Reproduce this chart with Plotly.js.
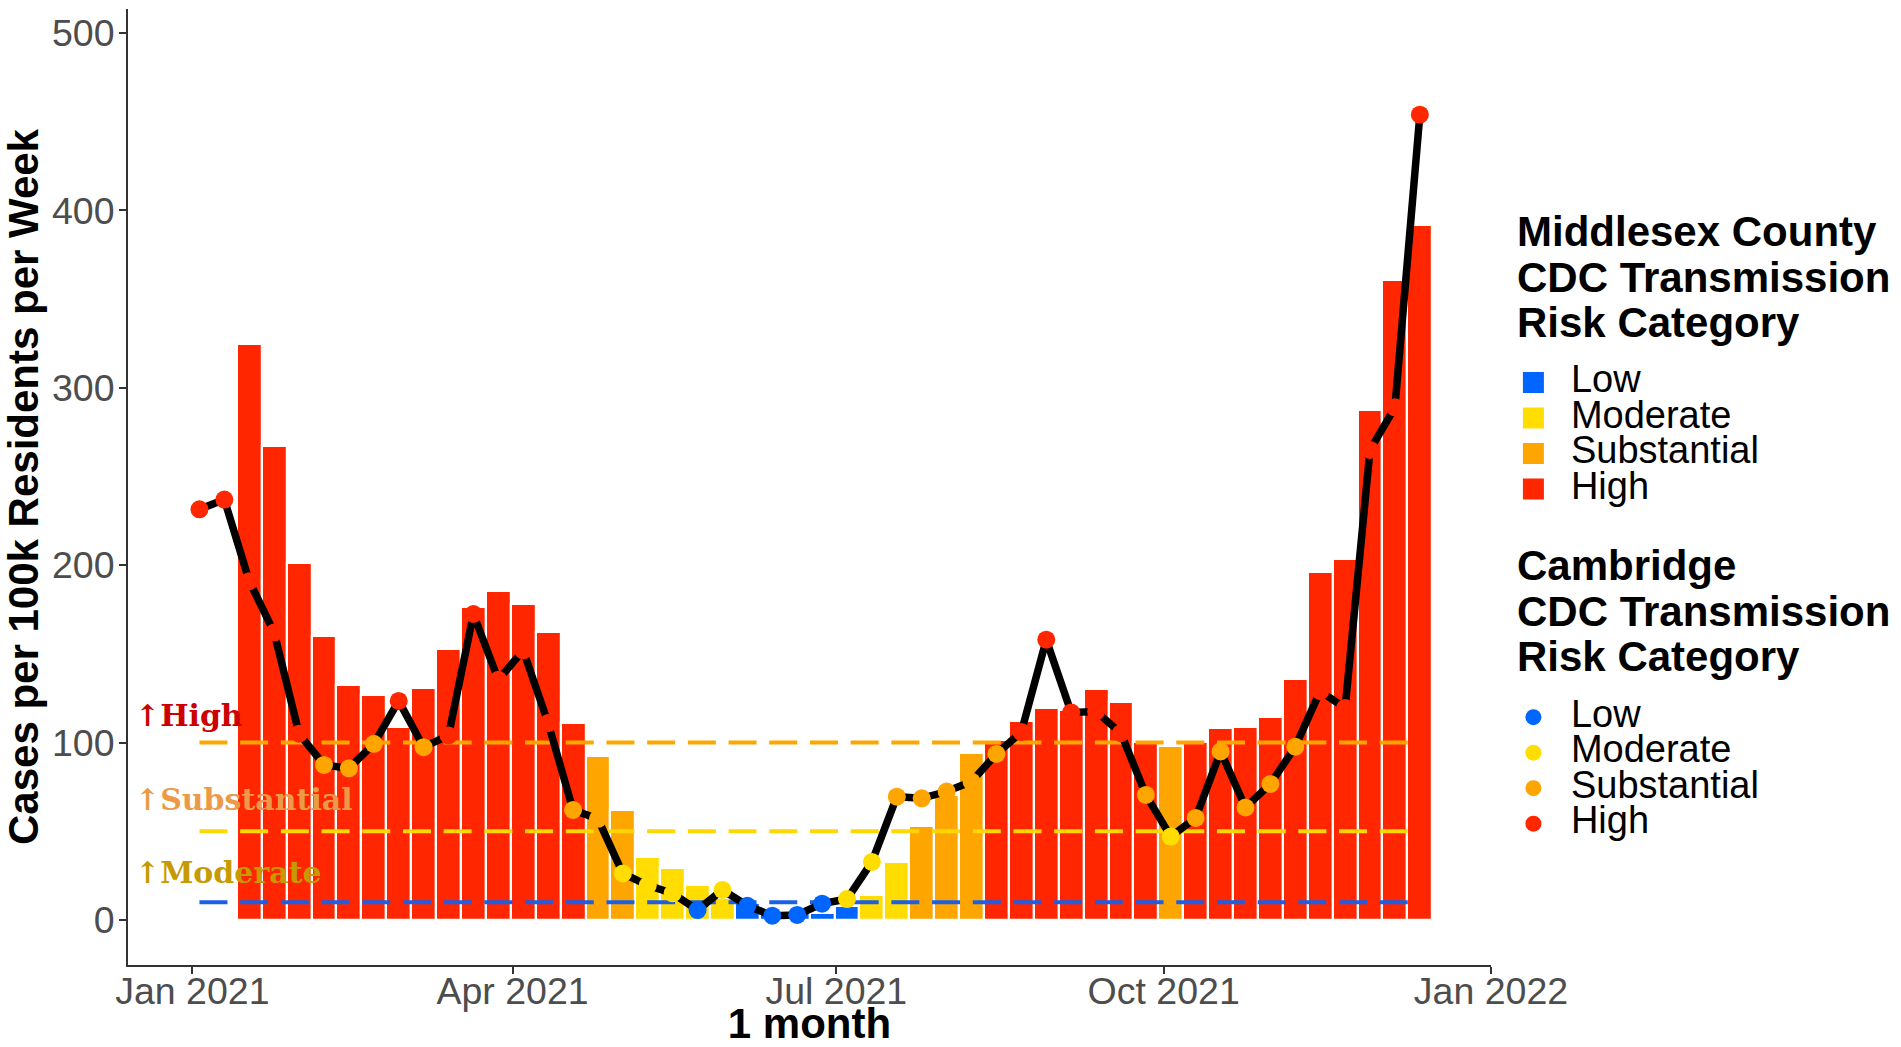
<!DOCTYPE html>
<html><head><meta charset="utf-8">
<script src="https://cdn.plot.ly/plotly-3.0.1.min.js"></script>
<style>html,body{margin:0;padding:0;background:#fff}#chart{width:1901px;height:1047px}</style>
</head><body><div id="chart"></div>
<script>
// ---------- data ----------
const categories = ['Low', 'Moderate', 'Substantial', 'High'];
const categoryColors = ['#0066FF', '#FFDD00', '#FFA500', '#FF2600'];

const thresholdValues = [10, 50, 100];
const thresholdColors = ['#1A5FE6', '#FFD700', '#FFA500'];
const thresholdLabels = ['↑Moderate', '↑Substantial', '↑High'];
const thresholdLabelColors = ['#C69A00', '#EC9A48', '#CC0000'];

const countyLegendTitle = ['Middlesex County', 'CDC Transmission', 'Risk Category'];
const cityLegendTitle = ['Cambridge', 'CDC Transmission', 'Risk Category'];

// Middlesex County weekly bars
const countyWeeks = ['2021-01-17','2021-01-24','2021-01-31','2021-02-07','2021-02-14','2021-02-21','2021-02-28',
  '2021-03-07','2021-03-14','2021-03-21','2021-03-28','2021-04-04','2021-04-11','2021-04-18','2021-04-25',
  '2021-05-02','2021-05-09','2021-05-16','2021-05-23','2021-05-30','2021-06-06','2021-06-13','2021-06-20',
  '2021-06-27','2021-07-04','2021-07-11','2021-07-18','2021-07-25','2021-08-01','2021-08-08','2021-08-15',
  '2021-08-22','2021-08-29','2021-09-05','2021-09-12','2021-09-19','2021-09-26','2021-10-03','2021-10-10',
  '2021-10-17','2021-10-24','2021-10-31','2021-11-07','2021-11-14','2021-11-21','2021-11-28','2021-12-05',
  '2021-12-12'];
const countyCases = [324.5, 267.5, 201, 160.2, 132.4, 127, 108.7,
  131, 152.7, 176.3, 185.7, 178.3, 162.2, 111, 92.5,
  62.2, 35.7, 29.3, 19.7, 12.5, 9.8, 5, 4,
  3.9, 7.9, 14.1, 32.8, 53.2, 70.5, 94, 101.5,
  112.4, 119.3, 118.4, 130.1, 122.8, 100.6, 97.8, 100.3,
  108.5, 109, 114.5, 136, 196, 203.5, 287.3, 361,
  391.7];
const countyRisk = ['High','High','High','High','High','High','High',
  'High','High','High','High','High','High','High','Substantial',
  'Substantial','Moderate','Moderate','Moderate','Moderate','Low','Low','Low',
  'Low','Low','Moderate','Moderate','Substantial','Substantial','Substantial','High',
  'High','High','High','High','High','High','Substantial','High',
  'High','High','High','High','High','High','High','High',
  'High'];

// Cambridge weekly points
const cityWeeks = ['2021-01-03','2021-01-10','2021-01-17','2021-01-24','2021-01-31','2021-02-07','2021-02-14',
  '2021-02-21','2021-02-28','2021-03-07','2021-03-14','2021-03-21','2021-03-28','2021-04-04','2021-04-11',
  '2021-04-18','2021-04-25','2021-05-02','2021-05-09','2021-05-16','2021-05-23','2021-05-30','2021-06-06',
  '2021-06-13','2021-06-20','2021-06-27','2021-07-04','2021-07-11','2021-07-18','2021-07-25','2021-08-01',
  '2021-08-08','2021-08-15','2021-08-22','2021-08-29','2021-09-05','2021-09-12','2021-09-19','2021-09-26',
  '2021-10-03','2021-10-10','2021-10-17','2021-10-24','2021-10-31','2021-11-07','2021-11-14','2021-11-21',
  '2021-11-28','2021-12-05','2021-12-12'];
const cityCases = [231.5, 237, 191, 162, 105, 87.4, 85.5,
  99.3, 123.5, 97.4, 104, 172.5, 135.4, 152, 111,
  62, 57, 26.2, 19.5, 15, 5.6, 16.9, 8,
  2.4, 2.8, 9.2, 11.8, 32.7, 69.5, 68.6, 72.4,
  78, 93.6, 106, 158, 117, 117.5, 105.3, 70.5,
  47, 57.5, 95, 63.4, 76.7, 97.7, 129, 119.5,
  265, 289, 454];
const cityRisk = ['High','High','High','High','High','Substantial','Substantial',
  'Substantial','High','Substantial','High','High','High','High','High',
  'Substantial','Substantial','Moderate','Moderate','Moderate','Low','Moderate','Low',
  'Low','Low','Low','Moderate','Moderate','Substantial','Substantial','Substantial',
  'Substantial','Substantial','High','High','High','High','High','Substantial',
  'Moderate','Substantial','Substantial','Substantial','Substantial','Substantial','High','High',
  'High','High','High'];

const xTickVals = ['2021-01-01', '2021-04-01', '2021-07-01', '2021-10-01', '2022-01-01'];
const xTickText = ['Jan 2021', 'Apr 2021', 'Jul 2021', 'Oct 2021', 'Jan 2022'];
const yTickVals = [0, 100, 200, 300, 400, 500];

// ---------- traces ----------
const SANS = 'Liberation Sans, Arial, sans-serif';
const WEEK_MS = 7 * 24 * 3600 * 1000;
const itemName = t => '<span style="font-size:38px">' + t + '</span>';
const traces = [];

categories.forEach((cat, i) => {
  const idx = countyRisk.map((r, k) => r === cat ? k : -1).filter(k => k >= 0);
  traces.push({
    type: 'bar', x: idx.map(k => countyWeeks[k]), y: idx.map(k => countyCases[k]),
    width: WEEK_MS, marker: {color: categoryColors[i], line: {color: '#FFFFFF', width: 2.2}},
    showlegend: false, hoverinfo: 'x+y', name: cat
  });
});

thresholdValues.forEach((t, i) => {
  traces.push({
    type: 'scatter', mode: 'lines',
    x: [cityWeeks[0], cityWeeks[cityWeeks.length - 1]], y: [t, t],
    line: {color: thresholdColors[i], width: 4, dash: '28px,12.7px'},
    showlegend: false, hoverinfo: 'skip'
  });
});

traces.push({
  type: 'scatter', mode: 'lines', x: cityWeeks, y: cityCases,
  line: {color: '#000000', width: 7.5}, showlegend: false, hoverinfo: 'skip'
});

categories.forEach((cat, i) => {
  const idx = cityRisk.map((r, k) => r === cat ? k : -1).filter(k => k >= 0);
  traces.push({
    type: 'scatter', mode: 'markers', x: idx.map(k => cityWeeks[k]), y: idx.map(k => cityCases[k]),
    marker: {color: categoryColors[i], size: 18}, name: itemName(cat), legend: 'legend2'
  });
});

// legend-only swatches for the county bars
categories.forEach((cat, i) => {
  traces.push({
    type: 'scatter', mode: 'markers', x: [null], y: [null],
    marker: {color: categoryColors[i], symbol: 'square', size: 16, line: {color: categoryColors[i], width: 5}},
    name: itemName(cat), legend: 'legend', hoverinfo: 'skip'
  });
});

// ---------- layout ----------
const labelY = [26.5, 67.7, 115];
const legendCommon = {
  xanchor: 'left', yanchor: 'top', bgcolor: 'rgba(0,0,0,0)', borderwidth: 0,
  font: {family: SANS, size: 25, color: '#000'}, itemwidth: 65, traceorder: 'normal',
  itemclick: false, itemdoubleclick: false
};
const titleSpan = lines => lines.map(l => '<span style="font-size:42px">' + l + '</span>').join('<br>');
const legendTitleAnn = (lines, y) => ({
  text: titleSpan(lines), xref: 'paper', yref: 'paper', x: 1.0179, y: y,
  xanchor: 'left', yanchor: 'top', align: 'left', showarrow: false,
  font: {family: SANS, size: 35, color: '#000', weight: 'bold'}
});

const layout = {
  width: 1901, height: 1047,
  margin: {l: 128, r: 410, t: 9, b: 82, pad: 0},
  paper_bgcolor: '#fff', plot_bgcolor: '#fff',
  barmode: 'overlay', bargap: 0,
  font: {family: SANS, color: '#4D4D4D'},
  xaxis: {
    type: 'date', range: ['2020-12-13 22:00', '2022-01-01'],
    tickvals: xTickVals, ticktext: xTickText,
    tickfont: {size: 37.5, color: '#4D4D4D', family: SANS}, ticklabelstandoff: -15,
    ticks: 'outside', ticklen: 7, tickwidth: 2, tickcolor: '#333',
    showline: true, linecolor: '#333', linewidth: 2, showgrid: false, zeroline: false,
    title: {text: '1 month', font: {size: 42, color: '#000', family: SANS, weight: 'bold'}}
  },
  yaxis: {
    range: [-25.4, 513.6], tickvals: yTickVals,
    tickfont: {size: 37.5, color: '#4D4D4D', family: SANS}, ticklabelstandoff: -3,
    ticks: 'outside', ticklen: 7, tickwidth: 2, tickcolor: '#333',
    showline: true, linecolor: '#333', linewidth: 2, showgrid: false, zeroline: false,
    title: {text: 'Cases per 100k Residents per Week', font: {size: 42, color: '#000', family: SANS, weight: 'bold'}}
  },
  legend: Object.assign({}, legendCommon, {x: 1.0036, y: 0.633}),
  legend2: Object.assign({}, legendCommon, {x: 1.0036, y: 0.283}),
  annotations: thresholdLabels.map((t, i) => ({
    text: t, xref: 'x', yref: 'y', x: '2020-12-15 08:00', y: labelY[i],
    xanchor: 'left', yanchor: 'middle', showarrow: false,
    font: {family: 'DejaVu Serif, serif', size: 30, color: thresholdLabelColors[i], weight: 'bold'}
  })).concat([
    legendTitleAnn(countyLegendTitle, 0.7939),
    legendTitleAnn(cityLegendTitle, 0.4446)
  ]),
  showlegend: true
};

Plotly.newPlot('chart', traces, layout, {displayModeBar: false});
</script>
</body></html>
